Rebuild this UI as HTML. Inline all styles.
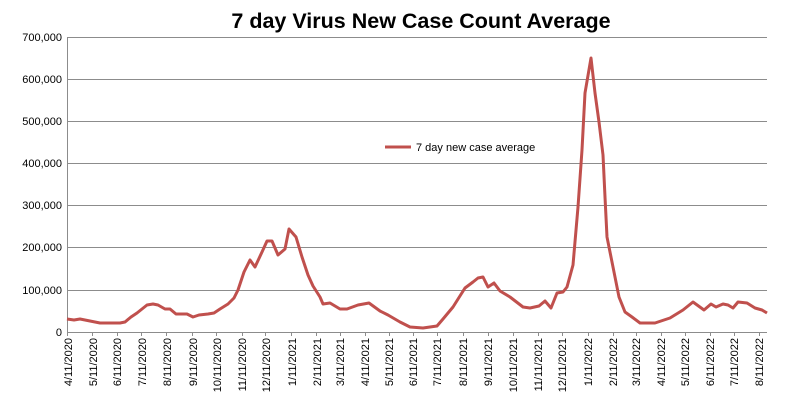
<!DOCTYPE html>
<html><head><style>body{margin:0;background:#fff}svg{display:block}text{font-family:"Liberation Sans",sans-serif}</style></head>
<body>
<svg width="792" height="409" viewBox="0 0 792 409">
<text x="421" y="28" font-size="21.5" font-weight="bold" text-anchor="middle" fill="#000">7 day Virus New Case Count Average</text>
<g stroke="#8c8c8c" stroke-width="1">
<line x1="68" y1="37.5" x2="767" y2="37.5"/>
<line x1="68" y1="79.5" x2="767" y2="79.5"/>
<line x1="68" y1="121.5" x2="767" y2="121.5"/>
<line x1="68" y1="163.5" x2="767" y2="163.5"/>
<line x1="68" y1="205.5" x2="767" y2="205.5"/>
<line x1="68" y1="247.5" x2="767" y2="247.5"/>
<line x1="68" y1="290.5" x2="767" y2="290.5"/>
<line x1="68" y1="332.5" x2="767" y2="332.5"/>
<line x1="67.5" y1="37" x2="67.5" y2="332"/>
</g>
<g font-size="11" fill="#000" text-anchor="end">
<text x="62" y="41">700,000</text><text x="62" y="83">600,000</text><text x="62" y="125">500,000</text>
<text x="62" y="167">400,000</text><text x="62" y="209">300,000</text><text x="62" y="251">200,000</text>
<text x="62" y="294">100,000</text><text x="62" y="336">0</text>
</g>
<g font-size="11" fill="#000" text-anchor="end">
<g transform="translate(72,338) rotate(-90)"><text>4/11/2020</text></g>
<g transform="translate(97,338) rotate(-90)"><text>5/11/2020</text></g>
<g transform="translate(121,338) rotate(-90)"><text>6/11/2020</text></g>
<g transform="translate(146,338) rotate(-90)"><text>7/11/2020</text></g>
<g transform="translate(171,338) rotate(-90)"><text>8/11/2020</text></g>
<g transform="translate(197,338) rotate(-90)"><text>9/11/2020</text></g>
<g transform="translate(221,338) rotate(-90)"><text>10/11/2020</text></g>
<g transform="translate(246,338) rotate(-90)"><text>11/11/2020</text></g>
<g transform="translate(270,338) rotate(-90)"><text>12/11/2020</text></g>
<g transform="translate(296,338) rotate(-90)"><text>1/11/2021</text></g>
<g transform="translate(321,338) rotate(-90)"><text>2/11/2021</text></g>
<g transform="translate(344,338) rotate(-90)"><text>3/11/2021</text></g>
<g transform="translate(369,338) rotate(-90)"><text>4/11/2021</text></g>
<g transform="translate(393,338) rotate(-90)"><text>5/11/2021</text></g>
<g transform="translate(417,338) rotate(-90)"><text>6/11/2021</text></g>
<g transform="translate(441,338) rotate(-90)"><text>7/11/2021</text></g>
<g transform="translate(467,338) rotate(-90)"><text>8/11/2021</text></g>
<g transform="translate(492,338) rotate(-90)"><text>9/11/2021</text></g>
<g transform="translate(517,338) rotate(-90)"><text>10/11/2021</text></g>
<g transform="translate(542,338) rotate(-90)"><text>11/11/2021</text></g>
<g transform="translate(566,338) rotate(-90)"><text>12/11/2021</text></g>
<g transform="translate(592,338) rotate(-90)"><text>1/11/2022</text></g>
<g transform="translate(617,338) rotate(-90)"><text>2/11/2022</text></g>
<g transform="translate(640,338) rotate(-90)"><text>3/11/2022</text></g>
<g transform="translate(665,338) rotate(-90)"><text>4/11/2022</text></g>
<g transform="translate(689,338) rotate(-90)"><text>5/11/2022</text></g>
<g transform="translate(714,338) rotate(-90)"><text>6/11/2022</text></g>
<g transform="translate(738,338) rotate(-90)"><text>7/11/2022</text></g>
<g transform="translate(763,338) rotate(-90)"><text>8/11/2022</text></g>
</g>
<g stroke="#8c8c8c" stroke-width="1">
<line x1="67.5" y1="332" x2="67.5" y2="336"/><line x1="92.5" y1="332" x2="92.5" y2="336"/><line x1="117.5" y1="332" x2="117.5" y2="336"/><line x1="141.5" y1="332" x2="141.5" y2="336"/><line x1="166.5" y1="332" x2="166.5" y2="336"/><line x1="192.5" y1="332" x2="192.5" y2="336"/><line x1="216.5" y1="332" x2="216.5" y2="336"/><line x1="242.5" y1="332" x2="242.5" y2="336"/><line x1="265.5" y1="332" x2="265.5" y2="336"/><line x1="291.5" y1="332" x2="291.5" y2="336"/><line x1="316.5" y1="332" x2="316.5" y2="336"/><line x1="340.5" y1="332" x2="340.5" y2="336"/><line x1="365.5" y1="332" x2="365.5" y2="336"/><line x1="389.5" y1="332" x2="389.5" y2="336"/><line x1="413.5" y1="332" x2="413.5" y2="336"/><line x1="437.5" y1="332" x2="437.5" y2="336"/><line x1="463.5" y1="332" x2="463.5" y2="336"/><line x1="488.5" y1="332" x2="488.5" y2="336"/><line x1="513.5" y1="332" x2="513.5" y2="336"/><line x1="538.5" y1="332" x2="538.5" y2="336"/><line x1="562.5" y1="332" x2="562.5" y2="336"/><line x1="588.5" y1="332" x2="588.5" y2="336"/><line x1="613.5" y1="332" x2="613.5" y2="336"/><line x1="636.5" y1="332" x2="636.5" y2="336"/><line x1="661.5" y1="332" x2="661.5" y2="336"/><line x1="685.5" y1="332" x2="685.5" y2="336"/><line x1="710.5" y1="332" x2="710.5" y2="336"/><line x1="734.5" y1="332" x2="734.5" y2="336"/><line x1="759.5" y1="332" x2="759.5" y2="336"/>
</g>
<polyline fill="none" stroke="#c0504d" stroke-width="3" stroke-linejoin="round" points="67,319 74,320 80,319 90,321 100,323 120,323 125,322 131,317 137,313 147,305 153,304 158,305 165,309 170,309 176,314 187,314 193,317 199,315 208,314 214,313 220,309 228,304 234,298 238,290 244,272 250,260 255,267 262,252 267,241 272,241 278,255 285,249 289,229 296,237 302,257 308,275 313,286 320,297 323,304 330,303 340,309 347,309 358,305 369,303 380,311 388,315 400,322 410,327 423,328 437,326 443,319 453,307 465,288 473,282 478,278 483,277 488,287 494,283 500,291 510,297 523,307 530,308 539,306 545,301 551,308 557,293 563,292 567,287 570,276 573,265 578,207 582,150 585,93 591,58 595,93 599,122 603,155 605,197 607,237 613,267 619,297 625,312 632,317 640,323 655,323 670,318 683,310 693,302 704,310 711,304 716,307 723,304 728,305 733,308 738,302 747,303 755,308 762,310 767,313"/>
<line x1="385" y1="147" x2="411" y2="147" stroke="#c0504d" stroke-width="3"/>
<text x="416" y="151" font-size="11" fill="#000">7 day new case average</text>
</svg>
</body></html>
